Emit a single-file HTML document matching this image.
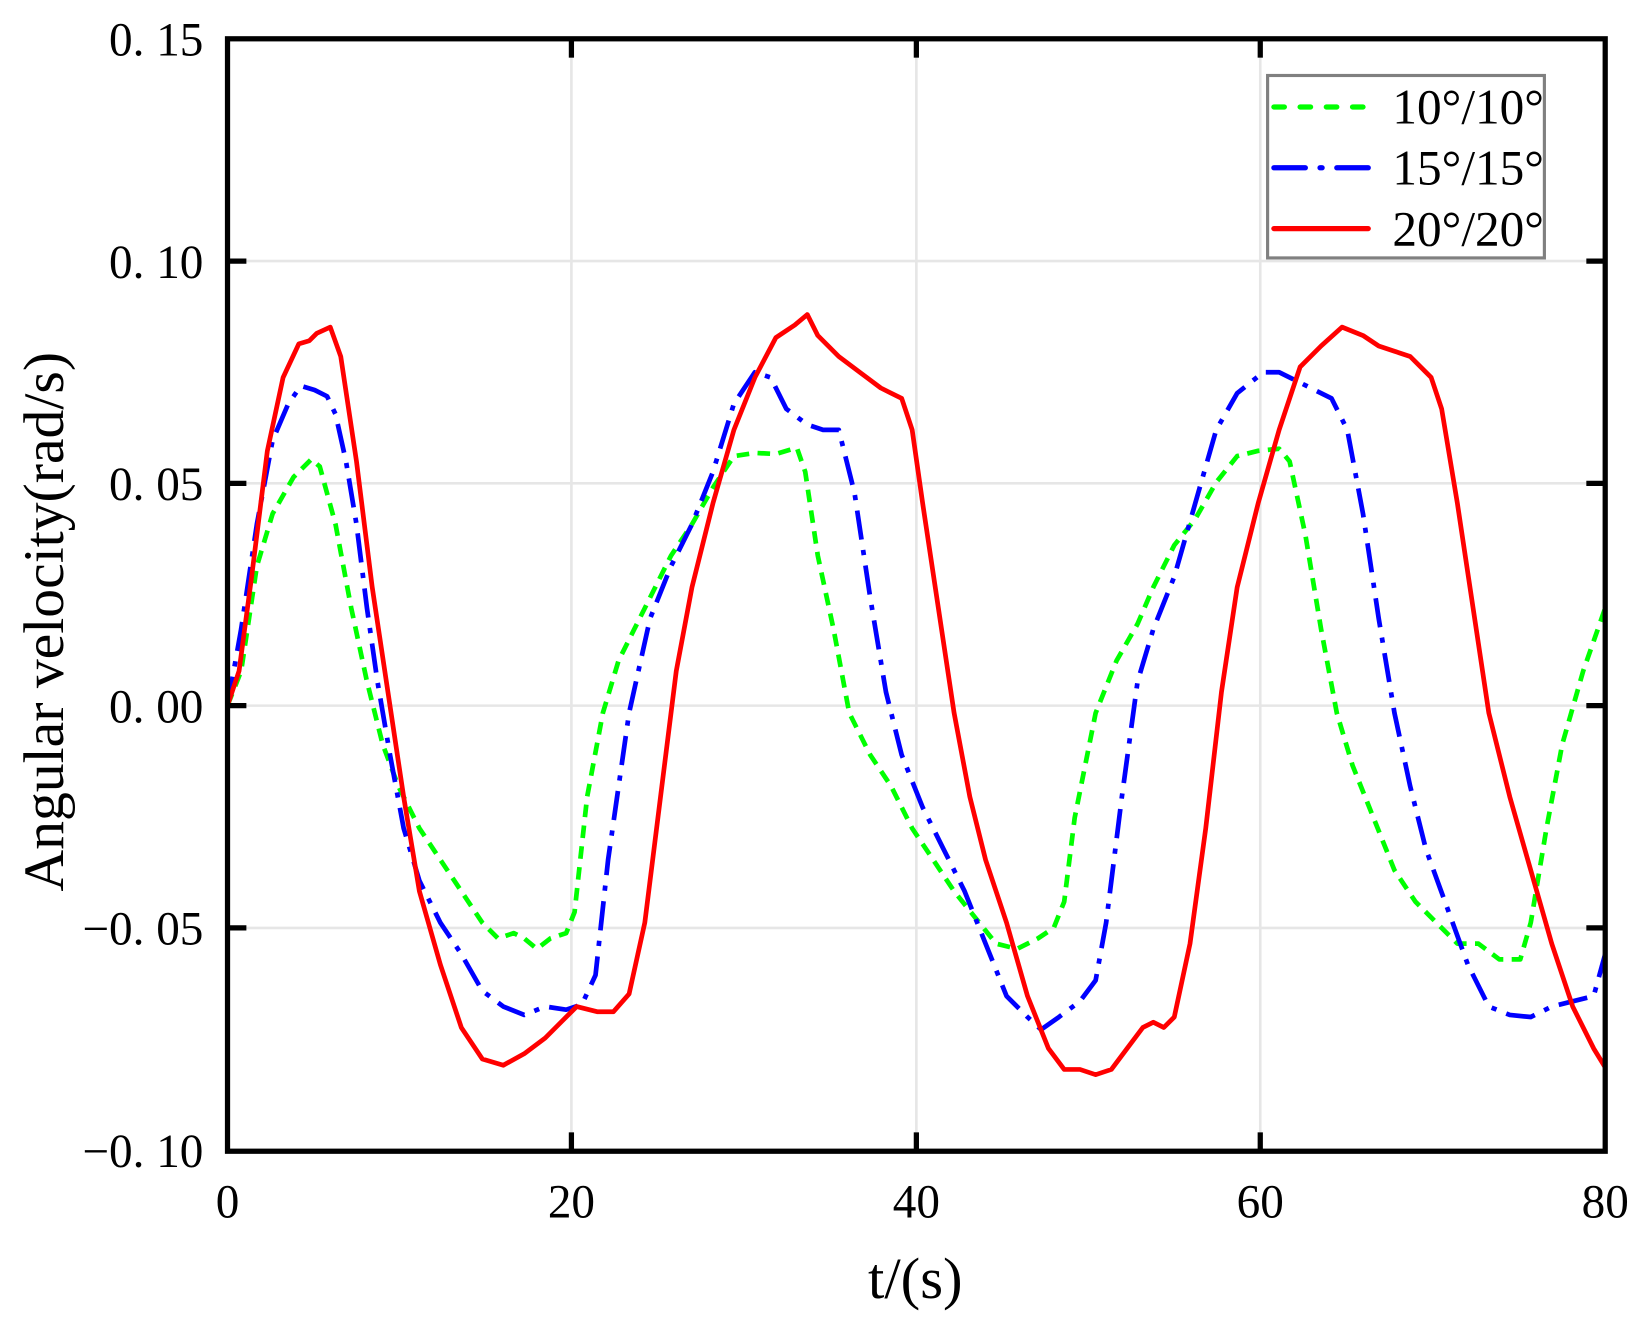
<!DOCTYPE html>
<html><head><meta charset="utf-8"><style>
html,body{margin:0;padding:0;background:#fff;}
svg{display:block;}
text{font-family:"Liberation Serif",serif;fill:#000;}
</style></head><body>
<svg width="1644" height="1328" viewBox="0 0 1568 1266.6" preserveAspectRatio="none" xmlns="http://www.w3.org/2000/svg">
<rect x="0" y="0" width="1568" height="1267" fill="#fff"/>
<g stroke="#e6e6e6" stroke-width="2.5">
<line x1="545" y1="37" x2="545" y2="1098"/><line x1="874" y1="37" x2="874" y2="1098"/><line x1="1202" y1="37" x2="1202" y2="1098"/>
<line x1="217" y1="249" x2="1531" y2="249"/><line x1="217" y1="461" x2="1531" y2="461"/><line x1="217" y1="673" x2="1531" y2="673"/><line x1="217" y1="885" x2="1531" y2="885"/>
</g>
<g fill="none" stroke-width="4.5" stroke-linejoin="round">
<polyline stroke="#00ff00" stroke-dasharray="12,8" points="217,673 230,640 245,540 260,490 280,455 297,438 305,445 320,500 335,580 350,650 365,710 380,750 400,790 420,820 440,850 460,880 475,895 490,890 500,895 512,905 525,895 540,890 548,870 560,760 575,680 590,630 605,600 620,570 640,530 660,500 680,465 700,435 720,432 740,433 760,427 768,450 780,530 795,600 810,680 830,720 850,750 870,790 890,820 910,850 930,875 950,900 970,905 990,895 1005,885 1015,860 1025,780 1045,680 1065,630 1085,595 1100,560 1120,520 1140,495 1160,460 1180,435 1200,430 1220,428 1230,440 1245,510 1260,600 1275,680 1290,730 1310,780 1330,830 1350,860 1370,880 1390,900 1410,900 1430,915 1450,915 1460,880 1475,790 1490,710 1510,640 1531,580"/>
<polyline stroke="#0000ff" stroke-dasharray="28,10,5,10" points="217,673 230,600 245,500 260,420 275,385 287,368 300,372 312,378 320,395 330,440 340,500 350,580 360,650 372,720 385,790 400,840 420,880 440,910 460,945 480,960 500,968 520,960 540,963 555,958 568,930 580,820 600,680 620,590 640,540 660,500 680,450 700,385 720,355 735,360 750,390 770,405 785,410 800,410 815,470 830,570 845,660 860,720 880,770 900,810 920,850 940,900 960,950 980,970 993,982 1010,970 1030,955 1045,935 1055,880 1070,760 1085,650 1100,600 1120,550 1140,480 1160,410 1180,375 1205,355 1220,355 1240,365 1270,380 1285,410 1300,490 1315,590 1330,680 1345,750 1360,810 1380,865 1400,920 1420,960 1440,968 1460,970 1480,960 1500,955 1520,950 1531,910"/>
<polyline stroke="#ff0000" points="217,673 228,640 240,550 255,430 270,360 285,328 295,325 302,318 315,312 325,340 340,440 355,560 370,660 385,760 400,850 420,920 440,980 460,1010 480,1016 500,1005 520,990 535,975 550,960 570,965 585,965 600,948 615,880 630,760 645,640 660,560 680,480 700,410 720,360 740,322 758,310 770,300 780,320 800,340 820,355 840,370 860,380 870,410 880,480 895,580 910,680 925,760 940,820 960,880 980,950 1000,1000 1015,1020 1030,1020 1045,1025 1060,1020 1075,1000 1090,980 1100,975 1110,980 1120,970 1135,900 1150,790 1165,660 1180,560 1200,480 1220,410 1240,350 1260,330 1280,312 1300,320 1315,330 1330,335 1345,340 1365,360 1375,390 1390,480 1405,580 1420,680 1440,760 1460,830 1480,900 1500,960 1520,1000 1531,1018"/>
</g>
<g stroke="#000" stroke-width="5">
<rect x="217" y="37" width="1314" height="1061" fill="none"/>
<line x1="545" y1="1098" x2="545" y2="1080"/><line x1="874" y1="1098" x2="874" y2="1080"/><line x1="1202" y1="1098" x2="1202" y2="1080"/>
<line x1="545" y1="37" x2="545" y2="55"/><line x1="874" y1="37" x2="874" y2="55"/><line x1="1202" y1="37" x2="1202" y2="55"/>
<line x1="217" y1="249" x2="235" y2="249"/><line x1="217" y1="461" x2="235" y2="461"/><line x1="217" y1="673" x2="235" y2="673"/><line x1="217" y1="885" x2="235" y2="885"/>
<line x1="1531" y1="249" x2="1513" y2="249"/><line x1="1531" y1="461" x2="1513" y2="461"/><line x1="1531" y1="673" x2="1513" y2="673"/><line x1="1531" y1="885" x2="1513" y2="885"/>
</g>
<g font-size="45" text-anchor="end">
<text x="194" y="53">0. 15</text><text x="194" y="265">0. 10</text><text x="194" y="477">0. 05</text><text x="194" y="689">0. 00</text><text x="194" y="901">−0. 05</text><text x="194" y="1113">−0. 10</text>
</g>
<g font-size="45" text-anchor="middle">
<text x="217" y="1161">0</text><text x="545" y="1161">20</text><text x="874" y="1161">40</text><text x="1202" y="1161">60</text><text x="1531" y="1161">80</text>
</g>
<text x="873" y="1238" font-size="56" text-anchor="middle">t/(s)</text>
<text transform="translate(60,593) rotate(-90)" font-size="55" text-anchor="middle">Angular velocity(rad/s)</text>
<rect x="1209" y="72" width="264" height="174" fill="#fff" stroke="#808080" stroke-width="3"/>
<g stroke-width="5" stroke-linecap="round">
<line x1="1215" y1="102" x2="1305" y2="102" stroke="#00ff00" stroke-dasharray="10,15"/>
<line x1="1215" y1="160" x2="1305" y2="160" stroke="#0000ff" stroke-dasharray="30,14,2,14"/>
<line x1="1215" y1="218" x2="1305" y2="218" stroke="#ff0000"/>
</g>
<g font-size="47">
<text x="1328" y="118">10°/10°</text><text x="1328" y="176">15°/15°</text><text x="1328" y="234">20°/20°</text>
</g>
</svg>
</body></html>
